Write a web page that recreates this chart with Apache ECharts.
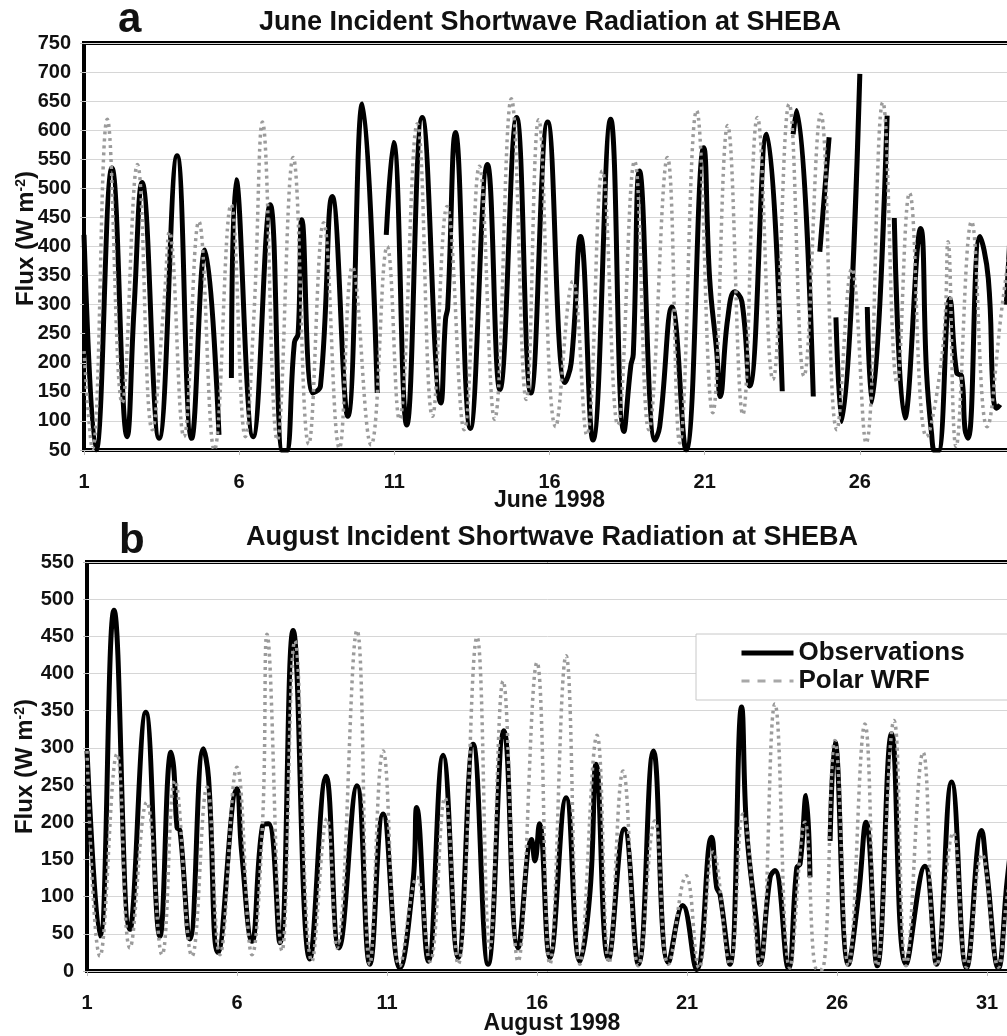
<!DOCTYPE html>
<html><head><meta charset="utf-8">
<script src="https://cdn.jsdelivr.net/npm/echarts@6/dist/echarts.min.js"></script>
<style>html,body{margin:0;padding:0;background:#fff}#c{width:1007px;height:1036px}</style>
</head><body><div id="c"></div><script>
// ---- Data (day of month, W m-2); null = gap in record ----
const juneObs = [
[1.00,420],[1.39,50],[1.90,535],[2.39,73],[2.61,290],[2.87,510],[3.42,70],[4.00,556],[4.47,70],[4.90,394],[5.35,76],null,
[5.75,174],[5.90,515],[6.45,73],[7.00,472],[7.40,48],[7.52,48],[7.78,235],[7.90,250],[8.02,446],[8.37,148],[8.62,160],[9.00,486],[9.50,108],[9.97,645],[10.45,148],null,
[10.74,420],[10.97,579],[11.40,93],[11.90,622],[12.50,131],[12.65,275],[12.72,295],[12.97,596],[13.45,87],[14.00,541],[14.40,154],[14.94,622],[15.40,148],[15.94,614],[16.50,166],[16.70,200],[17.00,417],[17.40,67],[17.97,619],[18.40,82],[18.62,195],[18.70,215],[18.90,530],[19.40,67],[19.55,90],[19.95,296],[20.40,50],[20.97,570],[21.16,345],[21.39,218],[21.50,142],[21.74,275],[21.97,322],[22.20,305],[22.45,160],[23.00,593],[23.50,151],null,
[23.85,593],[23.96,634],[24.50,142],null,
[24.71,391],[25.01,588],null,
[25.23,278],[25.41,99],[26.00,697],null,
[26.24,296],[26.38,131],[26.88,625],null,
[27.11,449],[27.45,105],[27.96,431],[28.15,183],[28.31,79],[28.42,48],[28.53,48],[28.90,310],[29.12,183],[29.28,177],[29.39,85],[29.49,70],[29.87,417],[30.14,345],[30.30,142],[30.41,122],[30.52,128],null,
[30.72,300],[30.90,480]
];
const juneWrf = [
[1.00,220],[1.27,52],[1.75,619],[2.23,131],[2.72,541],[3.20,85],[3.58,305],[3.75,425],[4.22,73],[4.70,443],[5.20,50],[5.74,472],[6.20,73],[6.48,287],[6.75,614],[7.23,67],[7.74,553],[8.24,60],[8.72,441],[9.23,53],[9.65,365],[10.25,59],[10.77,400],[11.16,103],[11.74,611],[12.23,108],[12.70,469],[13.25,85],[13.74,538],[14.23,103],[14.77,654],[15.25,137],[15.65,618],[16.20,90],[16.75,340],[17.20,76],[17.70,530],[18.20,93],[18.74,547],[19.20,85],[19.80,553],[20.20,62],[20.74,634],[21.26,114],[21.74,608],[22.23,111],[22.70,622],[23.20,171],[23.72,645],[24.20,177],[24.74,628],[25.26,85],[25.74,362],[26.20,62],[26.74,648],[27.20,166],[27.60,492],[28.15,73],[28.68,229],[28.84,408],[29.10,56],[29.60,443],[30.10,90],[30.60,304],[31.00,460]
];
const augObs = [
[1.00,296],[1.43,47],[1.90,485],[2.43,56],[2.96,348],[3.43,47],[3.80,294],[3.90,269],[4.00,193],[4.10,189],[4.43,43],[4.88,299],[5.05,260],[5.37,25],[6.00,245],[6.15,162],[6.50,40],[6.85,195],[7.05,198],[7.43,38],[7.87,458],[8.43,16],[8.97,262],[9.40,31],[10.00,249],[10.43,9],[10.87,211],[11.43,4],[11.87,121],[11.99,220],[12.38,13],[12.87,290],[13.37,18],[13.87,305],[14.37,9],[14.90,323],[15.37,31],[15.82,177],[15.93,148],[16.08,198],[16.43,18],[16.97,233],[17.43,13],[17.77,108],[17.97,278],[18.38,16],[18.91,191],[19.38,9],[19.88,296],[20.38,11],[20.86,88],[21.32,2],[21.82,180],[21.99,112],[22.10,103],[22.43,9],[22.82,355],[22.99,189],[23.32,63],[23.43,9],[23.77,126],[23.93,135],[24.38,4],[24.66,139],[24.77,144],[24.97,236],[25.10,126],null,
[25.77,175],[25.93,308],[26.38,9],[26.71,99],[26.97,200],[27.34,7],[27.82,319],[28.30,9],[28.93,141],[29.32,9],[29.82,254],[30.32,4],[30.82,189],[30.99,135],[31.38,4],[31.67,121],[31.90,200]
];
const augWrf = [
[1.00,296],[1.43,20],[2.00,292],[2.43,31],[2.99,227],[3.50,22],[3.93,256],[4.50,20],[5.00,247],[5.43,22],[6.00,274],[6.50,22],[6.85,198],[7.00,453],[7.50,27],[7.93,444],[8.50,13],[9.00,205],[9.33,31],[10.00,458],[10.43,9],[10.87,296],[11.43,7],[12.00,126],[12.43,13],[12.93,233],[13.37,9],[14.00,449],[14.43,31],[14.87,390],[15.37,13],[16.00,415],[16.43,9],[16.97,424],[17.43,9],[18.00,317],[18.40,11],[18.87,269],[19.38,7],[19.93,202],[20.38,9],[20.97,128],[21.40,4],[21.87,160],[22.43,9],[22.87,211],[23.43,9],[23.93,359],[24.43,4],[24.93,200],[25.33,2],[25.50,2],[25.93,310],[26.38,7],[26.93,332],[27.34,7],[27.90,337],[28.30,7],[28.87,294],[29.32,7],[29.87,186],[30.32,5],[30.83,157],[31.38,5],[31.67,99],[31.90,150]
];
const seriesNames = ['Observations', 'Polar WRF'];
const panelTitles = ['June Incident Shortwave Radiation at SHEBA', 'August Incident Shortwave Radiation at SHEBA'];
const panelLetters = ['a', 'b'];
const xNames = ['June 1998', 'August 1998'];
const xRanges = [[1, 31], [1, 32]];
const yRanges = [[50, 750], [0, 550]];

const FONT = 'Liberation Sans, Arial, Helvetica, sans-serif';
const prep = arr => arr.map(p => p === null ? ['-', '-'] : p);

const chart = echarts.init(document.getElementById('c'));
const grids = [
  {left: 84, top: 43, width: 931, height: 407},
  {left: 87, top: 562, width: 930, height: 409}
];
function xAxis(i){
  return {
    type: 'value', gridIndex: i, min: xRanges[i][0], max: xRanges[i][1], interval: 5,
    name: xNames[i], nameLocation: 'middle', nameGap: i === 0 ? 39 : 41, nameMoveOverlap: false,
    nameTextStyle: {fontFamily: FONT, fontSize: 23, fontWeight: 'bold', color: '#111'},
    axisLine: {show: false},
    axisTick: {show: true, length: 5, lineStyle: {color: '#bbb'}},
    splitLine: {show: false},
    axisLabel: {fontFamily: FONT, fontSize: 20, fontWeight: 'bold', color: '#111', margin: 22, showMaxLabel: false}
  };
}
function yAxis(i){
  return {
    type: 'value', gridIndex: i, min: yRanges[i][0], max: yRanges[i][1], interval: 50,
    name: 'Flux (W m{sup|-2})', nameLocation: 'middle', nameGap: i === 0 ? 46 : 50, nameMoveOverlap: false,
    nameTextStyle: {fontFamily: FONT, fontSize: 24, fontWeight: 'bold', color: '#111',
      padding: i === 0 ? [0, 0, 0, 16] : 0,
      rich: {sup: {fontFamily: FONT, fontSize: 14, fontWeight: 'bold', color: '#111', verticalAlign: 'top', lineHeight: 14}}},
    axisLine: {show: false},
    axisTick: {show: true, length: 4, lineStyle: {color: '#bbb'}},
    splitLine: {show: true, lineStyle: {color: '#d6d6d6', width: 1}},
    axisLabel: {fontFamily: FONT, fontSize: 20, fontWeight: 'bold', color: '#111', margin: 13}
  };
}
function lineSeries(name, data, i, isObs){
  const col = isObs ? '#000' : '#9b9b9b';
  return {
    type: 'line', name: name, xAxisIndex: i, yAxisIndex: i, data: prep(data),
    symbol: 'none', showSymbol: false, smooth: 0.45, connectNulls: false, clip: true,
    itemStyle: {color: col},
    lineStyle: isObs ? {color: col, width: 5} : {color: col, width: 3.5, type: [3, 4]},
    z: isObs ? 2 : 3, animation: false
  };
}
chart.setOption({
  animation: false,
  backgroundColor: '#fff',
  title: [
    {text: panelTitles[0], left: 545, top: 4, textAlign: 'center', textStyle: {fontFamily: FONT, fontSize: 27, fontWeight: 'bold', color: '#111'}},
    {text: panelTitles[1], left: 547, top: 519, textAlign: 'center', textStyle: {fontFamily: FONT, fontSize: 27, fontWeight: 'bold', color: '#111'}},
    {text: panelLetters[0], left: 113, top: -6, textStyle: {fontFamily: FONT, fontSize: 42, fontWeight: 'bold', color: '#111'}},
    {text: panelLetters[1], left: 114, top: 515, textStyle: {fontFamily: FONT, fontSize: 42, fontWeight: 'bold', color: '#111'}}
  ],
  legend: {
    data: [
      {name: seriesNames[0], lineStyle: {color: '#000', width: 5, type: 'solid'}},
      {name: seriesNames[1], lineStyle: {color: '#a8a8a8', width: 3, type: [8, 8]}}
    ],
    left: 696, top: 634, orient: 'vertical',
    padding: [6, 60, 6, 43], itemGap: 2, itemWidth: 52, itemHeight: 14,
    itemStyle: {color: 'rgba(0,0,0,0)', borderWidth: 0, opacity: 0},
    borderColor: '#c8c8c8', borderWidth: 1, backgroundColor: '#fff',
    textStyle: {fontFamily: FONT, fontSize: 26, fontWeight: 'bold', color: '#111'},
    selectedMode: false
  },
  grid: grids.map(g => Object.assign({show: true, borderColor: '#000', borderWidth: 4, backgroundColor: 'transparent', containLabel: false, outerBoundsMode: 'none'}, g)),
  xAxis: [xAxis(0), xAxis(1)],
  yAxis: [yAxis(0), yAxis(1)],
  series: [
    lineSeries(seriesNames[0], juneObs, 0, true),
    lineSeries(seriesNames[1], juneWrf, 0, false),
    lineSeries(seriesNames[0], augObs, 1, true),
    lineSeries(seriesNames[1], augWrf, 1, false)
  ]
});
</script></body></html>
